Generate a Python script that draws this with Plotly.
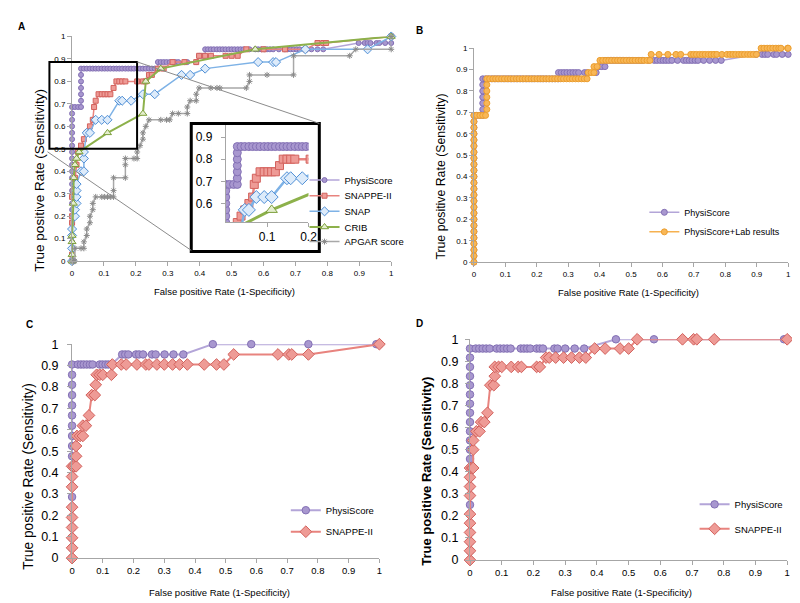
import plotly.graph_objects as go

W, H = 800, 603
FS = 'Liberation Sans, Arial, sans-serif'

# ---------------- datos ----------------
ticks = [0, 0.1, 0.2, 0.3, 0.4, 0.5, 0.6, 0.7, 0.8, 0.9, 1]
tick_txt = ['0', '0.1', '0.2', '0.3', '0.4', '0.5', '0.6', '0.7', '0.8', '0.9', '1']
ins_xticks = [0.1, 0.2]
ins_yticks = [0.6, 0.7, 0.8, 0.9]

# PhysiScore (panel A y B)
phys_x = [0, 0, 0, 0, 0, 0, 0, 0, 0, 0, 0, 0, 0, 0, 0, 0, 0, 0, 0, 0, 0, 0, 0, 0, 0,
          0.009, 0.019, 0.028,
          0.028, 0.028, 0.028, 0.028, 0.028, 0.028,
          0.037, 0.046, 0.056, 0.065, 0.074, 0.083, 0.093, 0.102, 0.111, 0.12, 0.13, 0.139, 0.148,
          0.157, 0.167, 0.176, 0.185, 0.194, 0.204, 0.213, 0.222, 0.231, 0.241, 0.25, 0.259, 0.269,
          0.269, 0.278, 0.287, 0.296, 0.306, 0.315, 0.324, 0.333, 0.352, 0.361, 0.389,
          0.398, 0.407, 0.417,
          0.417, 0.426, 0.435, 0.444, 0.454, 0.463, 0.472, 0.481, 0.491, 0.5, 0.509,
          0.519, 0.528, 0.537, 0.556, 0.574, 0.583, 0.593, 0.602, 0.611, 0.62, 0.63,
          0.648, 0.667, 0.676, 0.685, 0.694, 0.704, 0.713, 0.731, 0.75, 0.769, 0.787,
          0.898, 0.917, 0.926, 0.935, 0.954, 0.963, 0.981, 1.0]
phys_y = [0, 0.029, 0.057, 0.086, 0.114, 0.143, 0.171, 0.2, 0.229, 0.257, 0.286, 0.314, 0.343,
          0.371, 0.4, 0.429, 0.457, 0.486, 0.514, 0.543, 0.571, 0.6, 0.629, 0.657, 0.686,
          0.686, 0.686, 0.686,
          0.714, 0.743, 0.771, 0.8, 0.829, 0.857,
          0.857, 0.857, 0.857, 0.857, 0.857, 0.857, 0.857, 0.857, 0.857, 0.857, 0.857, 0.857, 0.857,
          0.857, 0.857, 0.857, 0.857, 0.857, 0.857, 0.857, 0.857, 0.857, 0.857, 0.857, 0.857, 0.857,
          0.886, 0.886, 0.886, 0.886, 0.886, 0.886, 0.886, 0.886, 0.886, 0.886, 0.886,
          0.914, 0.914, 0.914,
          0.943, 0.943, 0.943, 0.943, 0.943, 0.943, 0.943, 0.943, 0.943, 0.943, 0.943,
          0.943, 0.943, 0.943, 0.943, 0.943, 0.943, 0.943, 0.943, 0.943, 0.943, 0.943,
          0.943, 0.943, 0.943, 0.943, 0.943, 0.943, 0.943, 0.943, 0.943, 0.943, 0.943,
          0.971, 0.971, 0.971, 0.971, 0.971, 0.971, 0.971, 0.971]

# SNAPPE-II (panel A)
snapA_x = [0, 0, 0, 0, 0, 0.005, 0.009, 0.014, 0.019, 0.028, 0.037, 0.046, 0.056, 0.065, 0.069,
           0.074, 0.083, 0.093, 0.102, 0.111, 0.12, 0.13, 0.139, 0.148, 0.157, 0.167, 0.204, 0.222,
           0.231, 0.241, 0.25, 0.269, 0.287, 0.315, 0.352, 0.389, 0.398, 0.417, 0.435, 0.481, 0.5,
           0.519, 0.546, 0.6, 0.667, 0.731, 0.769, 0.787, 0.796, 1.0]
snapA_y = [0, 0.029, 0.171, 0.2, 0.286, 0.314, 0.371, 0.429, 0.486, 0.514, 0.543, 0.571, 0.6, 0.629,
           0.686, 0.714, 0.743, 0.743, 0.743, 0.743, 0.743, 0.771, 0.8, 0.8, 0.8, 0.8, 0.8, 0.8,
           0.8, 0.829, 0.829, 0.857, 0.857, 0.886, 0.886, 0.886, 0.914, 0.914, 0.914, 0.914, 0.914,
           0.914, 0.943, 0.943, 0.943, 0.943, 0.971, 0.971, 0.971, 1.0]

# SNAP (panel A)
snap_x = [0, 0, 0, 0, 0.009, 0.009, 0.014, 0.014, 0.014, 0.014, 0.028, 0.037, 0.037, 0.037, 0.046,
          0.056, 0.074, 0.093, 0.111, 0.148, 0.157, 0.185, 0.222, 0.259, 0.343, 0.37, 0.417, 0.583,
          0.63, 0.639, 0.731, 0.926, 1.0]
snap_y = [0, 0.057, 0.114, 0.143, 0.2, 0.229, 0.257, 0.286, 0.314, 0.343, 0.4, 0.4, 0.457, 0.486,
          0.571, 0.571, 0.629, 0.629, 0.629, 0.714, 0.714, 0.714, 0.743, 0.743, 0.829, 0.829, 0.857,
          0.886, 0.886, 0.886, 0.943, 0.943, 1.0]

# CRIB (panel A)
crib_x = [0, 0, 0, 0, 0.004, 0.005, 0.009, 0.014, 0.022, 0.111, 0.222, 0.231, 0.278, 0.574, 1.0]
crib_y = [0, 0.029, 0.086, 0.114, 0.257, 0.371, 0.429, 0.457, 0.486, 0.571, 0.657, 0.8, 0.857, 0.943, 1.0]

# APGAR score (panel A)
apgar_x = [0, 0.005, 0.009, 0.009, 0.028, 0.037, 0.037, 0.046, 0.046, 0.056, 0.056, 0.065, 0.065,
           0.074, 0.093, 0.102, 0.111, 0.12, 0.13, 0.13, 0.13, 0.167, 0.167, 0.167, 0.194, 0.204,
           0.204, 0.213, 0.222, 0.222, 0.231, 0.241, 0.278, 0.296, 0.306, 0.315, 0.333, 0.361,
           0.361, 0.37, 0.389, 0.389, 0.398, 0.435, 0.454, 0.463, 0.546, 0.556, 0.556, 0.611,
           0.694, 0.694, 0.87, 0.889, 1.0, 1.0]
apgar_y = [0, 0, 0, 0.057, 0.057, 0.057, 0.086, 0.114, 0.143, 0.171, 0.2, 0.229, 0.257, 0.286,
           0.286, 0.286, 0.286, 0.286, 0.286, 0.314, 0.371, 0.371, 0.429, 0.457, 0.457, 0.457,
           0.486, 0.514, 0.543, 0.571, 0.6, 0.629, 0.629, 0.629, 0.629, 0.657, 0.657, 0.657,
           0.686, 0.714, 0.714, 0.743, 0.771, 0.771, 0.771, 0.771, 0.771, 0.8, 0.829, 0.829,
           0.829, 0.914, 0.914, 0.943, 0.943, 1.0]

# PhysiScore+Lab results (panel B)
lab_x = [0, 0, 0, 0, 0, 0, 0, 0, 0, 0, 0, 0, 0, 0, 0, 0, 0, 0, 0, 0, 0, 0, 0, 0, 0,
         0.009, 0.019, 0.028, 0.037,
         0.041, 0.041, 0.041, 0.041, 0.041, 0.041,
         0.05, 0.06, 0.069, 0.078, 0.088, 0.097, 0.107, 0.116, 0.125, 0.135, 0.144, 0.154,
         0.163, 0.172, 0.182, 0.191, 0.201, 0.21, 0.219, 0.229, 0.238, 0.248, 0.257, 0.266,
         0.276, 0.285, 0.295, 0.304, 0.313, 0.323, 0.332, 0.342, 0.351, 0.36,
         0.364, 0.373, 0.382,
         0.382, 0.392,
         0.401, 0.41, 0.42, 0.429, 0.438, 0.448, 0.457, 0.466, 0.476, 0.485, 0.495, 0.504,
         0.513, 0.523, 0.532, 0.541, 0.551, 0.56,
         0.564, 0.589, 0.617, 0.643, 0.658, 0.69, 0.699, 0.708, 0.718, 0.727, 0.736, 0.746,
         0.755, 0.764, 0.773, 0.789, 0.805, 0.815, 0.824, 0.833, 0.843, 0.852, 0.861, 0.871,
         0.88, 0.889, 0.899,
         0.914, 0.923, 0.933, 0.942, 0.951, 0.961, 0.97, 0.977, 0.998, 1.0]
lab_y = [0, 0.029, 0.057, 0.086, 0.114, 0.143, 0.171, 0.2, 0.229, 0.257, 0.286, 0.314, 0.343,
         0.371, 0.4, 0.429, 0.457, 0.486, 0.514, 0.543, 0.571, 0.6, 0.629, 0.657, 0.686,
         0.686, 0.686, 0.686, 0.686,
         0.714, 0.743, 0.771, 0.8, 0.829, 0.857,
         0.857, 0.857, 0.857, 0.857, 0.857, 0.857, 0.857, 0.857, 0.857, 0.857, 0.857, 0.857,
         0.857, 0.857, 0.857, 0.857, 0.857, 0.857, 0.857, 0.857, 0.857, 0.857, 0.857, 0.857,
         0.857, 0.857, 0.857, 0.857, 0.857, 0.857, 0.857, 0.857, 0.857, 0.857,
         0.886, 0.886, 0.886,
         0.914, 0.914,
         0.943, 0.943, 0.943, 0.943, 0.943, 0.943, 0.943, 0.943, 0.943, 0.943, 0.943, 0.943,
         0.943, 0.943, 0.943, 0.943, 0.943, 0.943,
         0.971, 0.971, 0.971, 0.971, 0.971, 0.971, 0.971, 0.971, 0.971, 0.971, 0.971, 0.971,
         0.971, 0.971, 0.971, 0.971, 0.971, 0.971, 0.971, 0.971, 0.971, 0.971, 0.971, 0.971,
         0.971, 0.971, 0.971,
         1.0, 1.0, 1.0, 1.0, 1.0, 1.0, 1.0, 1.0, 1.0, 1.0]

# panel C
physC_x = [0, 0, 0, 0, 0, 0, 0, 0, 0, 0, 0, 0, 0, 0, 0, 0, 0, 0, 0, 0,
           0.019, 0.029, 0.038, 0.048, 0.058, 0.067, 0.09, 0.099, 0.109, 0.118, 0.128,
           0.163, 0.173, 0.183, 0.208, 0.218, 0.231, 0.26, 0.272, 0.301, 0.33, 0.362,
           0.458, 0.583, 0.769, 0.99, 1.0]
physC_y = [0, 0.048, 0.095, 0.143, 0.19, 0.238, 0.286, 0.333, 0.381, 0.429, 0.476, 0.524, 0.571,
           0.619, 0.667, 0.714, 0.762, 0.81, 0.857, 0.905,
           0.905, 0.905, 0.905, 0.905, 0.905, 0.905, 0.905, 0.905, 0.905, 0.905, 0.905,
           0.952, 0.952, 0.952, 0.952, 0.952, 0.952, 0.952, 0.952, 0.952, 0.952, 0.952,
           1.0, 1.0, 1.0, 1.0, 1.0]
snapC_x = [0, 0, 0, 0, 0, 0, 0, 0, 0, 0.006, 0.013, 0.013, 0.013, 0.016, 0.026, 0.035, 0.035,
           0.045, 0.055, 0.064, 0.074, 0.077, 0.08, 0.09, 0.1, 0.128, 0.131, 0.16, 0.176, 0.211,
           0.24, 0.25, 0.276, 0.3, 0.327, 0.35, 0.375, 0.43, 0.47, 0.494, 0.526, 0.67, 0.705,
           0.715, 0.769, 1.0]
snapC_y = [0, 0.048, 0.095, 0.143, 0.19, 0.238, 0.333, 0.381, 0.429, 0.429, 0.429, 0.476, 0.524,
           0.571, 0.571, 0.571, 0.619, 0.619, 0.667, 0.762, 0.762, 0.81, 0.857, 0.857, 0.857,
           0.857, 0.905, 0.905, 0.905, 0.905, 0.905, 0.905, 0.905, 0.905, 0.905, 0.905, 0.905,
           0.905, 0.905, 0.905, 0.952, 0.952, 0.952, 0.952, 0.952, 1.0]

# panel D
physD_x = [0, 0, 0, 0, 0, 0, 0, 0, 0, 0, 0, 0, 0, 0, 0, 0, 0, 0, 0, 0, 0, 0, 0, 0,
           0.018, 0.029, 0.04, 0.051, 0.062, 0.084, 0.095, 0.106, 0.117, 0.128, 0.16, 0.17,
           0.18, 0.19, 0.21, 0.22, 0.23, 0.266, 0.276, 0.3, 0.33, 0.36,
           0.46, 0.58, 0.77, 0.99, 1.0]
physD_y = [0, 0.042, 0.083, 0.125, 0.167, 0.208, 0.25, 0.292, 0.333, 0.375, 0.417, 0.458, 0.5,
           0.542, 0.583, 0.625, 0.667, 0.708, 0.75, 0.792, 0.833, 0.875, 0.917, 0.958,
           0.958, 0.958, 0.958, 0.958, 0.958, 0.958, 0.958, 0.958, 0.958, 0.958, 0.958,
           0.958, 0.958, 0.958, 0.958, 0.958, 0.958, 0.958, 0.958, 0.958, 0.958, 0.958,
           1.0, 1.0, 1.0, 1.0, 1.0]
snapD_x = [0, 0, 0, 0, 0, 0, 0, 0, 0, 0, 0.007, 0.01, 0.01, 0.01, 0.02, 0.03, 0.035, 0.045,
           0.055, 0.064, 0.075, 0.078, 0.078, 0.09, 0.1, 0.13, 0.152, 0.162, 0.21, 0.22, 0.24,
           0.25, 0.27, 0.295, 0.32, 0.345, 0.365, 0.393, 0.426, 0.473, 0.5, 0.527, 0.67, 0.705,
           0.715, 0.77, 1.0]
snapD_y = [0, 0.042, 0.083, 0.125, 0.167, 0.208, 0.292, 0.333, 0.375, 0.417, 0.417, 0.417, 0.5,
           0.542, 0.583, 0.583, 0.625, 0.625, 0.667, 0.792, 0.792, 0.833, 0.875, 0.875, 0.875,
           0.875, 0.875, 0.875, 0.875, 0.875, 0.917, 0.917, 0.917, 0.917, 0.917, 0.917, 0.917,
           0.958, 0.958, 0.958, 0.958, 1.0, 1.0, 1.0, 1.0, 1.0, 1.0]

# ---------------- estilo ----------------
MORADO = ('#B3A5D8', '#A897CF', '#8370B4')
ROJO = ('#E8837E', '#EE9B96', '#D3625D')
AZUL = ('#7EB2E6', '#DDEBFA', '#4F8FD6')
VERDE = ('#8DB14B', '#E4EECD', '#7C9F3B')
GRIS = ('#A8A8A8', '#8A8A8A', '#7A7A7A')
NARANJA = ('#F6B150', '#F8B757', '#EC9E2E')


def px(x):
    return x / W


def py(y):
    return 1 - y / H


fig = go.Figure()
leyendas = {}


def curva(x, y, nombre, col, simbolo, tam, ancho, eje, pos=None, clip=False, fley=9.5):
    # cada entrada de leyenda va en su propia leyenda para poder fijar el espaciado
    if pos is not None:
        k = 'legend' if not leyendas else 'legend' + str(len(leyendas) + 1)
        leyendas[k] = dict(x=px(pos[0] - 43), y=py(pos[1]), xanchor='left', yanchor='middle',
                           bgcolor='rgba(0,0,0,0)', itemwidth=30,
                           font=dict(family=FS, size=fley, color='black'))
    else:
        k = 'legend'
    fig.add_trace(go.Scatter(
        x=x, y=y, name=nombre, mode='lines+markers',
        line=dict(color=col[0], width=ancho),
        marker=dict(symbol=simbolo, size=tam, color=col[1], line=dict(color=col[2], width=1)),
        xaxis='x' + eje, yaxis='y' + eje, legend=k,
        showlegend=pos is not None, cliponaxis=clip))


def ejes(n, x0, x1, ytop, ybot, rx=(0, 1), ry=(0, 1), fx=8, fy=8, vx=ticks, vy=ticks,
         tx=tick_txt, ty=tick_txt, sep=0):
    k = '' if n == 1 else str(n)
    comun = dict(showline=True, linecolor='#A6A6A6', linewidth=1, ticks='outside', ticklen=4,
                 tickcolor='#A6A6A6', showgrid=False, zeroline=False, fixedrange=True)
    fig.layout['xaxis' + k] = dict(domain=[px(x0), px(x1)], range=list(rx), anchor='y' + k,
                                   tickvals=vx, ticktext=tx,
                                   tickfont=dict(family=FS, size=fx, color='black'), **comun)
    fig.layout['yaxis' + k] = dict(domain=[py(ybot), py(ytop)], range=list(ry), anchor='x' + k,
                                   tickvals=vy, ticktext=ty, ticklabelstandoff=sep,
                                   tickfont=dict(family=FS, size=fy, color='black'), **comun)


# panel A
curva(phys_x, phys_y, 'PhysiScore', MORADO, 'circle', 5, 1.5, '', (341, 169))
curva(snapA_x, snapA_y, 'SNAPPE-II', ROJO, 'square', 5, 1.5, '', (341, 185))
curva(snap_x, snap_y, 'SNAP', AZUL, 'diamond', 7, 1.5, '', (341, 201))
curva(crib_x, crib_y, 'CRIB', VERDE, 'triangle-up', 7, 2, '', (341, 217))
curva(apgar_x, apgar_y, 'APGAR score', GRIS, 'asterisk-open', 5, 1.5, '', (341, 232))
# recuadro ampliado
curva(phys_x, phys_y, 'PhysiScore', MORADO, 'circle', 8, 2.5, '5', clip=True)
curva(snapA_x, snapA_y, 'SNAPPE-II', ROJO, 'square', 8, 2.5, '5', clip=True)
curva(snap_x, snap_y, 'SNAP', AZUL, 'diamond', 10, 2.5, '5', clip=True)
curva(crib_x, crib_y, 'CRIB', VERDE, 'triangle-up', 10, 3, '5', clip=True)

# panel B
curva(phys_x, phys_y, 'PhysiScore', MORADO, 'circle', 6, 1.5, '2', (686, 202), fley=9)
curva(lab_x, lab_y, 'PhysiScore+Lab results', NARANJA, 'circle', 6, 1.5, '2', (686, 222), fley=9)

# panel C
curva(physC_x, physC_y, 'PhysiScore', MORADO, 'circle', 7.5, 2, '3', (322, 507))
curva(snapC_x, snapC_y, 'SNAPPE-II', ROJO, 'diamond', 9, 2, '3', (322, 529))

# panel D
curva(physD_x, physD_y, 'PhysiScore', MORADO, 'circle', 7.5, 2, '4', (737, 501))
curva(snapD_x, snapD_y, 'SNAPPE-II', ROJO, 'diamond', 9, 2, '4', (737, 526))

ejes(1, 62, 386, 22, 252)
ejes(2, 470, 789, 34, 253)
ejes(3, 62, 374, 337, 556, fx=9.5, fy=12.5, sep=6)
ejes(4, 466, 788, 332, 558, fx=9.5, fy=12.5, sep=4)
ejes(5, 218, 302, 112, 212, rx=(0, 0.2), ry=(0.516, 0.957), fx=12, fy=12,
     vx=ins_xticks, vy=ins_yticks, tx=['0.1', '0.2'], ty=['0.6', '0.7', '0.8', '0.9'], sep=6)

anots = []


def texto(x, y, t, size, ang=0, negrita=False):
    if negrita:
        t = '<b>' + t + '</b>'
    anots.append(dict(x=px(x), y=py(y), xref='paper', yref='paper', text=t, showarrow=False,
                      textangle=ang, xanchor='center', yanchor='middle',
                      font=dict(family=FS, size=size, color='black')))


xt = 'False positive Rate (1-Specificity)'
yt = 'True positive Rate (Sensitivity)'
texto(217, 283, xt, 9.5)
texto(627, 284, xt, 9.5)
texto(212, 591, xt, 9.5)
texto(620, 591, xt, 9.5)
texto(29, 169, yt, 13.5, -90)
texto(437, 165, yt, 12.3, -90)
texto(17, 472, yt, 13.8, -90)
texto(421, 467, yt, 13, -90, True)
texto(11, 12, 'A', 10, 0, True)
texto(415, 16, 'B', 10, 0, True)
texto(19, 317, 'C', 10, 0, True)
texto(415, 316, 'D', 10, 0, True)

formas = [
    dict(type='rect', x0=px(39), x1=px(128), y0=py(137), y1=py(48), line=dict(color='black', width=2)),
    dict(type='rect', x0=px(183), x1=px(313), y0=py(242), y1=py(111), line=dict(color='black', width=3)),
    dict(type='line', x0=px(128), x1=px(313), y0=py(48), y1=py(111), line=dict(color='#8C8C8C', width=1)),
    dict(type='line', x0=px(37), x1=px(183), y0=py(140), y1=py(241), line=dict(color='#8C8C8C', width=1)),
]
for f in formas:
    f['xref'] = 'paper'
    f['yref'] = 'paper'

fig.update_layout(
    width=W, height=H, autosize=False,
    margin=dict(l=0, r=0, t=0, b=0),
    paper_bgcolor='white', plot_bgcolor='white',
    showlegend=True,
    annotations=anots,
    shapes=formas,
    **leyendas
)

fig.write_html("out.html")
